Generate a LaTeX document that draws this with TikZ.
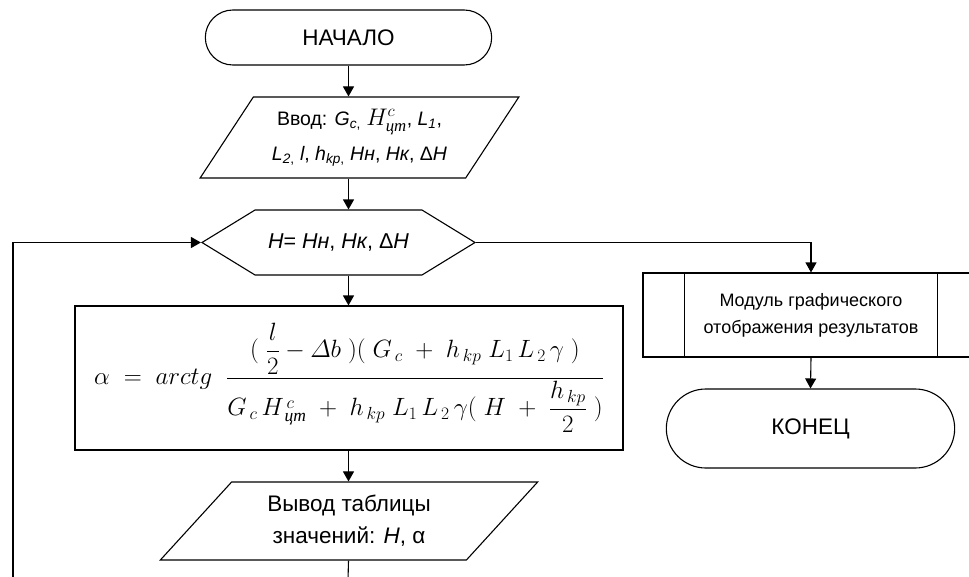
\RequirePackage{fix-cm}
\documentclass[tikz,border=0pt]{standalone}
\usepackage{amsmath}
\usepackage{fontspec}
\setmainfont{Liberation Sans}
\newfontfamily\timesit{Liberation Serif}
\usetikzlibrary{shapes.geometric, shapes.misc, shapes.symbols, arrows.meta, calc, positioning}

\begin{document}
\begin{tikzpicture}[x=1pt, y=-1pt, line width=1.1pt,
                        >={Triangle[length=10pt, width=11pt]},
                        term/.style={draw, rounded rectangle, minimum height=55pt, font=\fontsize{22.5}{22}\selectfont},
                        io/.style={draw, trapezium, trapezium stretches=true, align=center, inner sep=0pt},
                        proc/.style={draw, rectangle, inner sep=0pt, align=center},
                        cycle/.style={draw, signal, signal to=west and east, signal pointer angle=63, inner sep=0pt,
                                      minimum width=273pt, minimum height=65pt, font=\fontsize{21.5}{20}\selectfont}]
                    \useasboundingbox (0,0) rectangle (969,576);
                    \node[term, minimum width=293pt] (start) at (348.5,37.5) {НАЧАЛО};
                    \node[io, minimum width=319pt, minimum height=81pt, trapezium left angle=52.6, trapezium right angle=127.4,
                          font=\fontsize{19.5}{35}\selectfont] (in) at (359.5,137.5)
                          {Ввод: \textit{G}\textsubscript{\textit{c},} {\fontsize{24}{24}\selectfont$H^{c}_{\text{\timesit\itshape цт}}$}, \textit{L}\textsubscript{\textit{1}},\\
                           \textit{L}\textsubscript{\textit{2},} \textit{l}, \textit{h}\textsubscript{\textit{kp},} \textit{Нн}, \textit{Нк}, Δ\textit{H}};
                    \node[cycle] (loop) at (338.5,242.5) {\textit{H}= \textit{Нн}, \textit{Нк}, Δ\textit{H}};
                    \node[proc, minimum width=548pt, minimum height=144pt] (calc) at (349,378)
                          {\fontsize{25}{30}\selectfont$\displaystyle \alpha \;=\; arctg \;\;
                           \frac{(\;\dfrac{l}{2} - \varDelta b\;)(\;G_{\,c} \;+\; h_{\,kp}\; L_1\, L_{\,2}\,\gamma\;)}
                                {G_{\,c}\, H^{\,c}_{\,\text{\timesit\itshape цт}} \;+\; h_{\,kp}\; L_1\, L_{\,2}\,\gamma(\;H \;+\; \dfrac{h_{\,kp}}{2}\;)}$};
                    \node[io, minimum width=378pt, minimum height=78pt, trapezium left angle=46, trapezium right angle=134,
                          font=\fontsize{22.5}{32}\selectfont] (out) at (349,521)
                          {Вывод таблицы\\значений: \textit{H}, α};
                    \node[proc, minimum width=336pt, minimum height=84pt, font=\fontsize{18}{27}\selectfont] (mod) at (811,315)
                          {Модуль графического\\отображения результатов};
                    \draw ([xshift=42pt]mod.north west) -- ([xshift=42pt]mod.south west);
                    \draw ([xshift=-42pt]mod.north east) -- ([xshift=-42pt]mod.south east);
                    \node[term, minimum width=295pt, minimum height=79pt] (stop) at (810.5,428.5) {КОНЕЦ};
                    % main flow
                    \coordinate (tail) at (348,580);
                    \coordinate (back) at (13,580);
                    \draw[->] (start.south) -- (start.south |- in.north);
                    \draw[->] (start.south |- in.south) -- (start.south |- loop.north);
                    \draw[->] (start.south |- loop.south) -- (start.south |- calc.north);
                    \draw[->] (start.south |- calc.south) -- (start.south |- out.north);
                    \draw (start.south |- out.south) -- (tail);
                    \draw[->] (back) |- (loop.west);
                    % exit of the loop
                    \draw[->] (loop.east) -| (mod.north);
                    \draw[->] (mod.south) -- (stop.north);
                \end{tikzpicture}
\end{document}
